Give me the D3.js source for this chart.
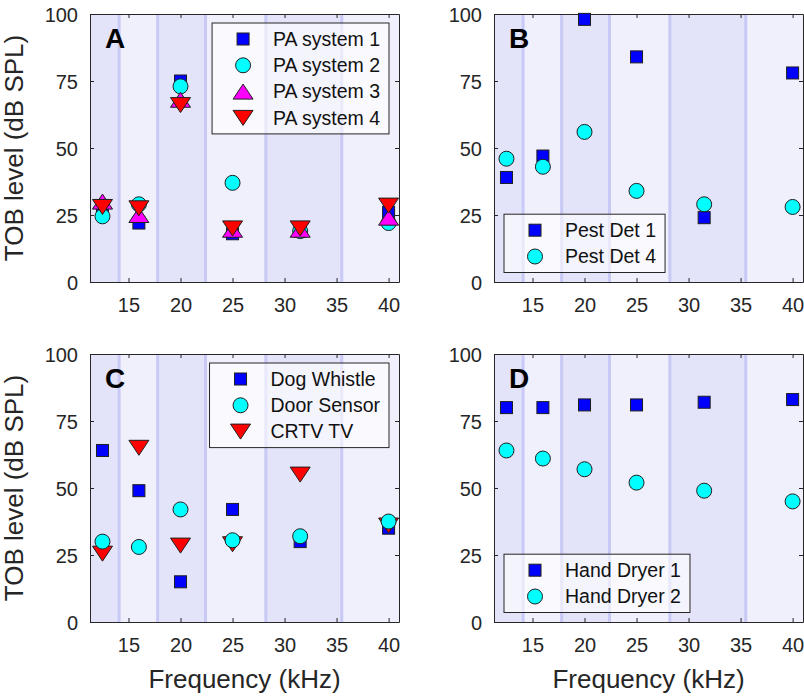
<!DOCTYPE html>
<html>
<head>
<meta charset="utf-8">
<script src="https://cdn.jsdelivr.net/npm/d3@7"></script>
<style>
  body { margin: 0; background: #fff; font-family: "Liberation Sans", Arial, sans-serif; }
</style>
</head>
<body>
<div id="wrapper"></div>
<script>
// third-octave band centres (kHz)
const freqs = [12.5, 16, 20, 25, 31.5, 40];
const bandEdges = [11.2, 14.1, 17.8, 22.4, 28.2, 35.5, 44.7];
const xTicks = [15, 20, 25, 30, 35, 40];
const yTicks = [0, 25, 50, 75, 100];

// panel A
const paSystem1 = [28, 22, 75, 18, 19, 26];
const paSystem2 = [24.5, 29, 73, 37, 19, 22];
const paSystem3 = [30, 25, 68, 19.5, 19.5, 24];
const paSystem4 = [28, 27.5, 66, 20, 20, 28.5];
// panel B
const pestDet1 = [39, 47, 98, 84, 24, 78];
const pestDet4 = [46, 43, 56, 34, 29, 28];
// panel C
const dogWhistle = [64, 49, 15, 42, 30, 35];
const doorSensor = [30, 28, 42, 30.5, 32, 37.5];
const crtvTv = [25.5, 65, 28.5, 29, 55, 36];
// panel D
const handDryer1 = [80, 80, 81, 81, 82, 83];
const handDryer2 = [64, 61, 57, 52, 49, 45];

const markerStyle = {
    square: "#0000ff",
    circle: "#00ffff",
    up: "#ff00ff",
    down: "#ff0000"
};

const panels = [
    {letter: "A", left: 90, top: 14, legendPos: "topright", xLabel: false, yLabel: true,
     series: [
        {name: "PA system 1", values: paSystem1, marker: "square"},
        {name: "PA system 2", values: paSystem2, marker: "circle"},
        {name: "PA system 3", values: paSystem3, marker: "up"},
        {name: "PA system 4", values: paSystem4, marker: "down"}
     ]},
    {letter: "B", left: 494, top: 14, legendPos: "bottomleft", xLabel: false, yLabel: false,
     series: [
        {name: "Pest Det 1", values: pestDet1, marker: "square"},
        {name: "Pest Det 4", values: pestDet4, marker: "circle"}
     ]},
    {letter: "C", left: 90, top: 354, legendPos: "topright", xLabel: true, yLabel: true,
     series: [
        {name: "Dog Whistle", values: dogWhistle, marker: "square", order: 0},
        {name: "Door Sensor", values: doorSensor, marker: "circle", order: 2},
        {name: "CRTV TV", values: crtvTv, marker: "down", order: 1}
     ]},
    {letter: "D", left: 494, top: 354, legendPos: "bottomleft", xLabel: true, yLabel: false,
     series: [
        {name: "Hand Dryer 1", values: handDryer1, marker: "square"},
        {name: "Hand Dryer 2", values: handDryer2, marker: "circle"}
     ]}
];

const dimensions = {
    width: 804,
    height: 697,
    panelWidth: 309,
    panelHeight: 268
};

const wrapper = d3.select("#wrapper")
    .append("svg")
    .attr("width", dimensions.width)
    .attr("height", dimensions.height);

const xScale = d3.scaleLinear()
    .domain([11.3, 41])
    .range([0, dimensions.panelWidth]);

const yScale = d3.scaleLinear()
    .domain([0, 100])
    .range([dimensions.panelHeight, 0]);

function drawMarker(sel, type) {
    const fill = markerStyle[type];
    if (type === "square") {
        sel.append("rect")
            .attr("x", -6).attr("y", -6)
            .attr("width", 12).attr("height", 12)
            .attr("fill", fill);
    } else if (type === "circle") {
        sel.append("circle").attr("r", 7.5).attr("fill", fill);
    } else if (type === "up") {
        sel.append("path").attr("d", "M0,-7.5L10,7.5L-10,7.5Z").attr("fill", fill);
    } else {
        sel.append("path").attr("d", "M0,7.5L10,-7.5L-10,-7.5Z").attr("fill", fill);
    }
    sel.selectAll("*")
        .attr("stroke", "#1f1f1f")
        .attr("stroke-width", 1);
}

panels.forEach(p => {
    const bounds = wrapper.append("g")
        .attr("transform", `translate(${p.left},${p.top})`);

    const clipId = "clip" + p.letter;
    bounds.append("clipPath").attr("id", clipId)
        .append("rect")
        .attr("width", dimensions.panelWidth)
        .attr("height", dimensions.panelHeight);

    // band shading
    const bands = bounds.append("g").attr("clip-path", `url(#${clipId})`);
    d3.pairs(bandEdges).forEach(([a, b], i) => {
        bands.append("rect")
            .attr("x", xScale(a))
            .attr("y", 0)
            .attr("width", xScale(b) - xScale(a))
            .attr("height", dimensions.panelHeight)
            .attr("fill", i % 2 === 0 ? "#e3e3f9" : "#f0f0fc");
    });
    bands.selectAll("line.edge")
        .data(bandEdges.slice(1, -1))
        .join("line")
        .attr("x1", d => xScale(d)).attr("x2", d => xScale(d))
        .attr("y1", 0).attr("y2", dimensions.panelHeight)
        .attr("stroke", "#c9c9f6")
        .attr("stroke-width", 3);

    // axes (MATLAB-ish box with inward ticks)
    const axisColor = "#262626";
    const xAxis = bounds.append("g")
        .attr("transform", `translate(0,${dimensions.panelHeight})`)
        .call(d3.axisBottom(xScale).tickValues(xTicks).tickSizeInner(-4).tickSizeOuter(0).tickPadding(22));
    const xAxisTop = bounds.append("g")
        .call(d3.axisTop(xScale).tickValues(xTicks).tickSizeInner(-4).tickSizeOuter(0).tickFormat(""));
    const yAxis = bounds.append("g")
        .call(d3.axisLeft(yScale).tickValues(yTicks).tickSizeInner(-4).tickSizeOuter(0).tickPadding(12));
    const yAxisRight = bounds.append("g")
        .attr("transform", `translate(${dimensions.panelWidth},0)`)
        .call(d3.axisRight(yScale).tickValues(yTicks).tickSizeInner(-4).tickSizeOuter(0).tickFormat(""));
    [xAxis, xAxisTop, yAxis, yAxisRight].forEach(ax => {
        ax.select(".domain").attr("stroke", axisColor);
        ax.selectAll(".tick line").attr("stroke", axisColor);
        ax.selectAll(".tick text")
            .attr("fill", axisColor)
            .style("font-size", "20px")
            .style("font-family", "Liberation Sans, Arial, sans-serif");
    });
    xAxis.selectAll(".tick text").attr("dy", "0.4em");
    yAxis.selectAll(".tick text").attr("dy", "0.35em");

    // data
    const drawOrder = p.series.slice().sort((a, b) => (a.order ?? 0) - (b.order ?? 0));
    drawOrder.forEach(s => {
        bounds.append("g").selectAll("g")
            .data(freqs.map((f, i) => ({f, v: s.values[i]})))
            .join("g")
            .attr("transform", d => `translate(${xScale(d.f)},${yScale(d.v)})`)
            .each(function () { drawMarker(d3.select(this), s.marker); });
    });

    // panel letter
    bounds.append("text")
        .attr("x", 15)
        .attr("y", 34)
        .attr("fill", "#000")
        .style("font-size", "28px")
        .style("font-weight", "bold")
        .text(p.letter);

    // legend
    const rowGap = 26.3;
    const legend = bounds.append("g");
    const box = legend.append("rect");
    const labels = p.series.map((s, i) => {
        const row = legend.append("g")
            .attr("transform", `translate(31,${16 + i * rowGap})`);
        drawMarker(row, s.marker);
        return row.append("text")
            .attr("x", 30)
            .attr("dy", "0.35em")
            .attr("fill", "#111")
            .style("font-size", "19.5px")
            .text(s.name);
    });
    const textW = d3.max(labels, t => t.node().getComputedTextLength());
    const boxW = 61 + textW + 9;
    const boxH = 32 + (p.series.length - 1) * rowGap;
    box.attr("width", boxW).attr("height", boxH)
        .attr("fill", "#fff").attr("fill-opacity", 0.6)
        .attr("stroke", "#262626").attr("stroke-width", 1);
    const lx = p.legendPos === "topright" ? dimensions.panelWidth - 10 - boxW : 10;
    const ly = p.legendPos === "topright" ? 9 : dimensions.panelHeight - 9.5 - boxH;
    legend.attr("transform", `translate(${lx},${ly})`);

    // axis labels
    if (p.yLabel) {
        bounds.append("text")
            .attr("transform", `translate(${-67},${dimensions.panelHeight / 2}) rotate(-90)`)
            .attr("text-anchor", "middle")
            .attr("fill", axisColor)
            .style("font-size", "26px")
            .text("TOB level (dB SPL)");
    }
    if (p.xLabel) {
        bounds.append("text")
            .attr("x", dimensions.panelWidth / 2)
            .attr("y", dimensions.panelHeight + 66)
            .attr("text-anchor", "middle")
            .attr("fill", axisColor)
            .style("font-size", "26px")
            .text("Frequency (kHz)");
    }
});
</script>
</body>
</html>
